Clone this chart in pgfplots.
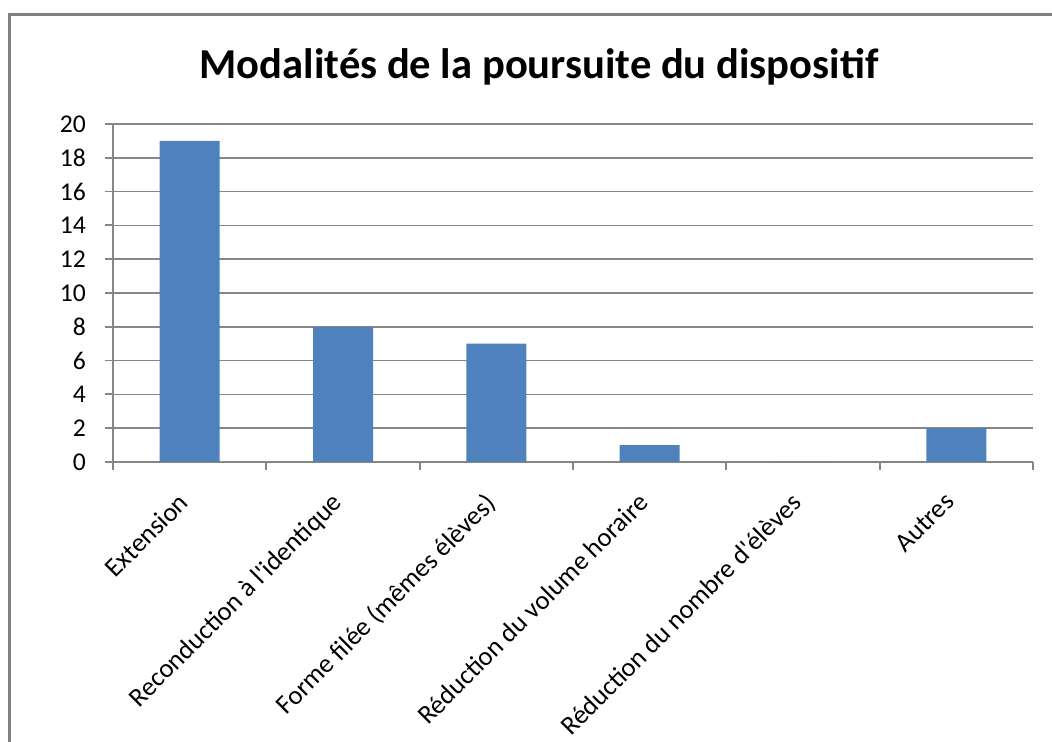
\documentclass[border=0pt]{standalone}
\usepackage{fontspec}
\setmainfont{Carlito}
\usepackage{pgfplots}
\pgfplotsset{compat=1.18}
\definecolor{barblue}{HTML}{4F81BD}
\definecolor{axgray}{HTML}{868686}
\definecolor{framegray}{HTML}{808080}

\begin{document}
\begin{tikzpicture}[x=0.5pt,y=0.5pt]
\useasboundingbox (0,0) rectangle (1052,742);
\clip (0,0) rectangle (1052,742);
% chart frame (cropped on the right and bottom)
\draw[framegray, line width=1.5pt] (9.5,-20) rectangle (1100,727);
\node[anchor=base, font=\bfseries\fontsize{21.3}{25}\selectfont] at (539,663)
  {Modalités de la poursuite du dispositif};
\begin{axis}[
    at={(56.5pt,140pt)}, anchor=south west,
    scale only axis,
    width=460pt, height=169pt,
    ybar, bar width=30pt,
    xmin=-0.5, xmax=5.5,
    ymin=0, ymax=20,
    ytick={0,2,...,20},
    xtick={0,...,5},
    xticklabels={Extension, Reconduction à l\textquotesingle identique, Forme filée (mêmes élèves),
      Réduction du volume horaire, Réduction du nombre d\textquotesingle élèves, Autres},
    minor xtick={-0.5,0.5,...,5.5},
    major x tick style={draw=none},
    axis x line*=bottom, axis y line*=left,
    axis line style={axgray, line width=0.9pt, -},
    tick style={axgray, line width=0.9pt},
    tick align=outside,
    major tick length=4pt, minor tick length=4pt,
    ymajorgrids,
    grid style={axgray, line width=0.75pt},
    yticklabel style={font=\fontsize{12.8}{14}\selectfont, xshift=-6pt},
    /pgf/number format/assume math mode=true,
    xticklabel style={font=\fontsize{13.3}{15}\selectfont, rotate=45, anchor=north east,
      xshift=-8.5pt, yshift=0.5pt},
]
\addplot[fill=barblue, draw=none] coordinates {(0,19) (1,8) (2,7) (3,1) (4,0) (5,2)};
\end{axis}
\end{tikzpicture}
\end{document}
